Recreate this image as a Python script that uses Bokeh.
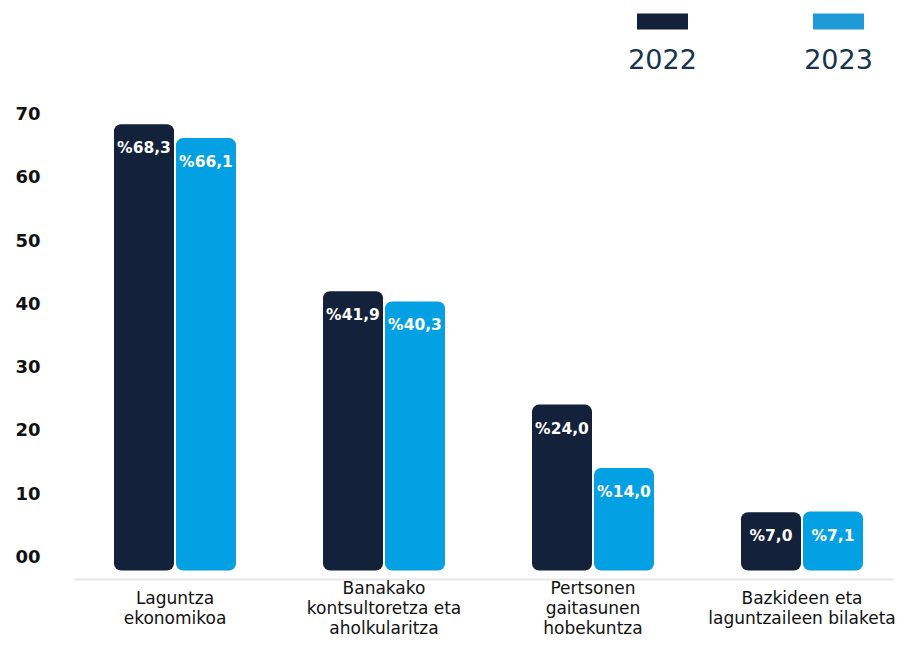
from bokeh.plotting import figure
from bokeh.models import FactorRange, Range1d, FixedTicker, ColumnDataSource
from bokeh.transform import dodge
from bokeh.core.properties import value
from bokeh.embed import file_html
from bokeh.resources import INLINE

# ---- data ----
categories = [
    "Laguntza ekonomikoa",
    "Banakako kontsultoretza eta aholkularitza",
    "Pertsonen gaitasunen hobekuntza",
    "Bazkideen eta laguntzaileen bilaketa",
]
category_labels = [
    "Laguntza\nekonomikoa",
    "Banakako\nkontsultoretza eta\naholkularitza",
    "Pertsonen\ngaitasunen\nhobekuntza",
    "Bazkideen eta\nlaguntzaileen bilaketa",
]
years = ["2022", "2023"]
values_2022 = [68.3, 41.9, 24.0, 7.0]
values_2023 = [66.1, 40.3, 14.0, 7.1]
y_ticks = [0, 10, 20, 30, 40, 50, 60, 70]
y_tick_labels = ["00", "10", "20", "30", "40", "50", "60", "70"]

# ---- style / layout ----
C2022 = "#13213a"
C2023 = "#03a0e3"
C2023_LEG = "#1e9bd7"
LEG_TEXT = "#15344f"
FONT = value("DejaVu Sans")

W, H = 906, 642
LEFT, RIGHT = 70, 0
ZERO_PX = 556.0          # pixel row of value 0
K = 6.33                 # pixels per unit
UNIT_X = (W - LEFT - RIGHT) / len(categories)

def py(px):              # pixel row -> data value
    return (ZERO_PX - px) / K

def sx(px):              # pixel column -> synthetic x
    return (px - LEFT) / UNIT_X

def fmt(v):
    return "%" + f"{v:.1f}".replace(".", ",")

src = ColumnDataSource(dict(
    cat=categories,
    lab=category_labels,
    v2022=values_2022,
    v2023=values_2023,
    t2022=[fmt(v) for v in values_2022],
    t2023=[fmt(v) for v in values_2023],
))

p = figure(
    width=W, height=H,
    x_range=FactorRange(*categories, range_padding=0),
    y_range=Range1d(py(H), py(0)),
    x_axis_location=None,
    output_backend="svg", toolbar_location=None,
    min_border_left=LEFT, min_border_right=RIGHT, min_border_top=0, min_border_bottom=0,
)
p.outline_line_color = None
p.xgrid.visible = False
p.ygrid.visible = False
p.background_fill_color = "white"

# y axis
ax = p.yaxis[0]
ax.ticker = FixedTicker(ticks=y_ticks)
ax.major_label_overrides = {t: l for t, l in zip(y_ticks, y_tick_labels)}
ax.axis_line_color = None
ax.major_tick_line_color = None
ax.minor_tick_line_color = None
ax.major_tick_out = 0
ax.major_tick_in = 0
ax.major_label_standoff = 30
ax.major_label_text_font = "DejaVu Sans"
ax.major_label_text_font_size = "18px"
ax.major_label_text_color = "#111111"
ax.major_label_text_font_style = "bold"

# baseline
base = py(ZERO_PX + 23)
p.segment(x0=[sx(74)], y0=[base], x1=[sx(893)], y1=[base], line_color="#e6e6e6", line_width=2)

off = 31 / UNIT_X
w = 60 / UNIT_X
bar_bottom = py(ZERO_PX + 14)
p.vbar(x=dodge("cat", -off, range=p.x_range), top="v2022", bottom=bar_bottom, width=w,
       source=src, fill_color=C2022, line_color=None, border_radius=7)
p.vbar(x=dodge("cat", off, range=p.x_range), top="v2023", bottom=bar_bottom, width=w,
       source=src, fill_color=C2023, line_color=None, border_radius=7)

for col, tcol, d in (("v2022", "t2022", -off), ("v2023", "t2023", off)):
    p.text(x=dodge("cat", d, range=p.x_range), y=col, text=tcol, source=src,
           y_offset=24, text_align="center", text_baseline="middle",
           text_color="white", text_font=FONT, text_font_size="15.5px",
           text_font_style="bold")

# category labels
p.text(x="cat", y=py(607), text="lab", source=src, text_align="center",
       text_baseline="middle", text_color="#111111", text_font=FONT,
       text_font_size="17px", text_line_height=1.0)

# legend (top)
leg_x = [sx(662), sx(838)]
p.rect(x=leg_x, y=[py(21)] * 2, width=51, height=16, width_units="screen",
       height_units="screen", fill_color=[C2022, C2023_LEG], line_color=None)
p.text(x=leg_x, y=[py(58)] * 2, text=years, text_align="center",
       text_baseline="alphabetic", text_color=LEG_TEXT, text_font=FONT,
       text_font_size="27px")

open("out.html", "w").write(file_html(p, INLINE))
